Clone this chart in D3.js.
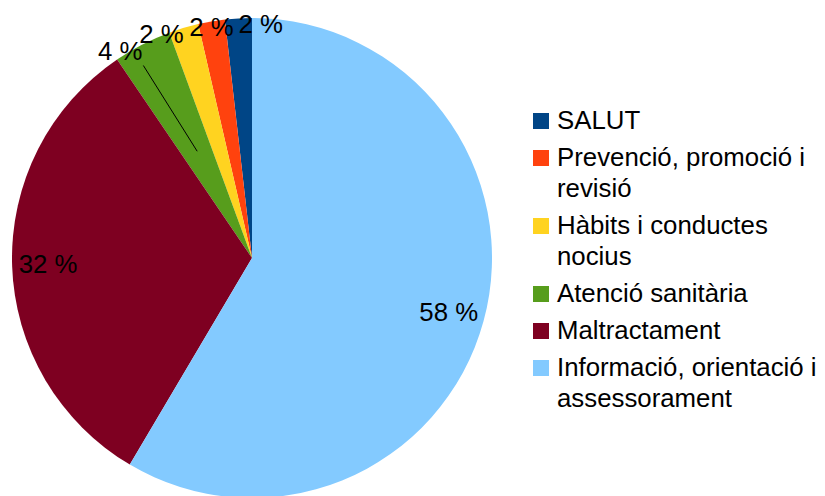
<!DOCTYPE html>
<html>
<head>
<meta charset="utf-8">
<script src="https://cdn.jsdelivr.net/npm/d3@7"></script>
<style>
  body { margin: 0; background: #fff; }
  text { font-family: "Liberation Sans", Arial, sans-serif; font-size: 25.8px; fill: #000; }
</style>
</head>
<body>
<script>
// slice order runs counter-clockwise from 12 o'clock
var categories = ["SALUT", "Prevenció, promoció i revisió", "Hàbits i conductes nocius",
                  "Atenció sanitària", "Maltractament", "Informació, orientació i assessorament"];
var legendLines = [["SALUT"], ["Prevenció, promoció i", "revisió"], ["Hàbits i conductes", "nocius"],
                   ["Atenció sanitària"], ["Maltractament"], ["Informació, orientació i", "assessorament"]];
var values = [1.8, 1.8, 2.0, 3.9, 32.0, 58.5];
var percentLabels = ["2 %", "2 %", "2 %", "4 %", "32 %", "58 %"];
var colors = ["#004586", "#ff420e", "#ffd320", "#579d1c", "#7e0021", "#83caff"];

var W = 825, H = 496;
var cx = 252, cy = 258, R = 240;

var svg = d3.select("body").append("svg").attr("width", W).attr("height", H);
var g = svg.append("g").attr("transform", "translate(" + cx + "," + cy + ")");

var pie = d3.pie().sort(null).startAngle(0).endAngle(-2 * Math.PI);
var arcs = pie(values);
var arc = d3.arc().innerRadius(0).outerRadius(R);

g.selectAll("path.slice").data(arcs).enter().append("path")
  .attr("class", "slice")
  .attr("d", arc)
  .attr("fill", function(d, i) { return colors[i]; });

// big slices: label inside, small ones: label just outside the rim
var insideArc = d3.arc().innerRadius(0.85 * R).outerRadius(0.85 * R);
var rimArc = d3.arc().innerRadius(R).outerRadius(R);
var halfArc = d3.arc().innerRadius(0.5 * R).outerRadius(0.5 * R);
var rimAnchor = ["start", "middle", "end", "end"];

arcs.forEach(function(d, i) {
  var t = g.append("text").text(percentLabels[i]);
  if (values[i] > 10) {
    var c = insideArc.centroid(d);
    t.attr("x", c[0]).attr("y", c[1] + 9).attr("text-anchor", "middle");
  } else {
    var p = rimArc.centroid(d);
    t.attr("x", p[0]).attr("y", p[1] + 15).attr("text-anchor", rimAnchor[i]);
    if (values[i] > 3) {
      var h = halfArc.centroid(d);
      g.append("line")
        .attr("x1", h[0]).attr("y1", h[1])
        .attr("x2", p[0] + 1).attr("y2", p[1] + 21)
        .attr("stroke", "#000").attr("stroke-width", 1);
    }
  }
});

// legend
var lx = 533, ly = 129, box = 16, lineH = 31, itemGap = 37;
var lg = svg.append("g");
var y = ly;
legendLines.forEach(function(lines, i) {
  lg.append("rect").attr("x", lx).attr("y", y - box).attr("width", box).attr("height", box)
    .attr("fill", colors[i]);
  var t = lg.append("text").attr("x", lx + 24).attr("y", y);
  lines.forEach(function(s, j) {
    t.append("tspan").attr("x", lx + 24).attr("y", y + j * lineH).text(s);
  });
  y += (lines.length - 1) * lineH + itemGap;
});
</script>
</body>
</html>
